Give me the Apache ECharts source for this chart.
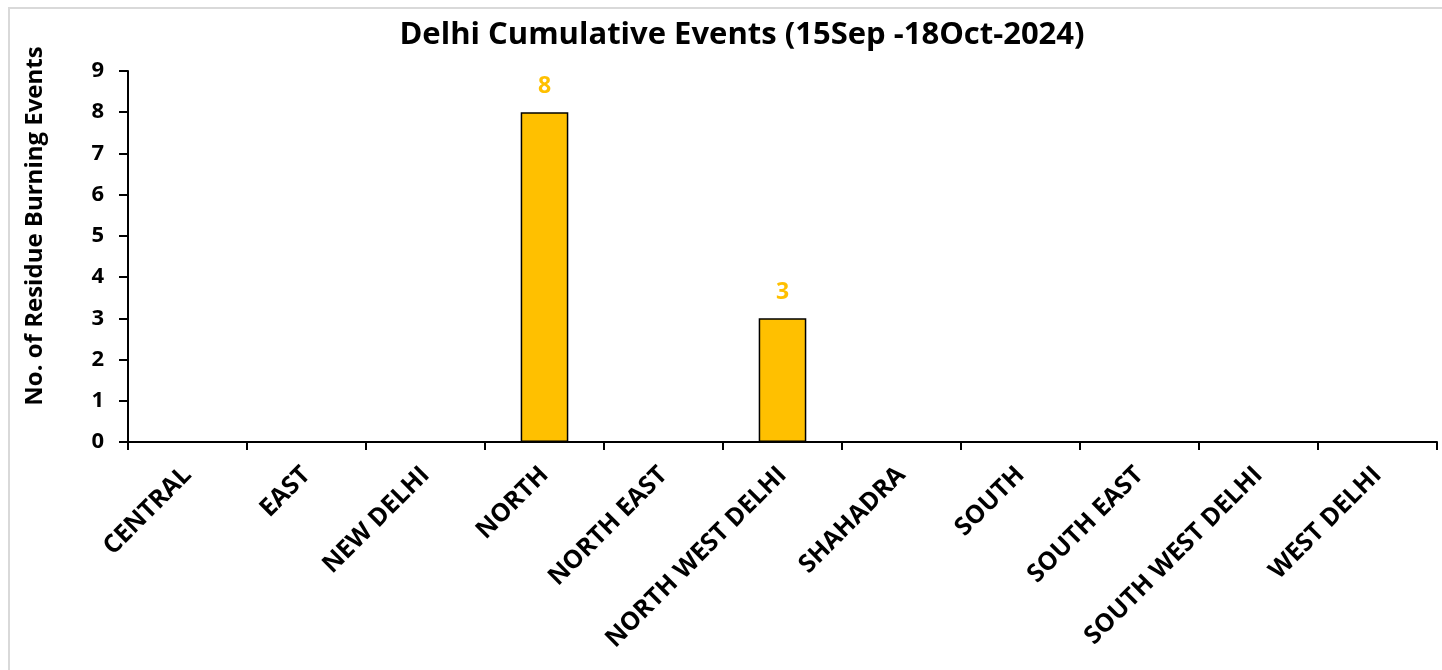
<!DOCTYPE html>
<html>
<head>
<meta charset="utf-8">
<script src="https://cdn.jsdelivr.net/npm/echarts@6/dist/echarts.min.js"></script>
<style>
  html, body { margin: 0; padding: 0; background: #fff; }
  #frame { position: absolute; left: 8px; top: 7px; width: 1450px; height: 680px; border-left: 2px solid #d9d9d9; border-top: 2px solid #d9d9d9; }
  #chart { position: absolute; left: 0; top: 0; width: 1442px; height: 670px; }
</style>
</head>
<body>
<div id="frame"></div>
<div id="chart"></div>
<script>
const districts = ['CENTRAL', 'EAST', 'NEW DELHI', 'NORTH', 'NORTH EAST', 'NORTH WEST DELHI',
  'SHAHADRA', 'SOUTH', 'SOUTH EAST', 'SOUTH WEST DELHI', 'WEST DELHI'];
const events = [0, 0, 0, 8, 0, 3, 0, 0, 0, 0, 0];

const font = '"Open Sans", "Noto Sans", sans-serif';
const chart = echarts.init(document.getElementById('chart'), null, { renderer: 'canvas' });

const option = {
  animation: false,
  title: {
    text: 'Delhi Cumulative Events (15Sep -18Oct-2024)',
    left: 737,
    textAlign: 'center',
    top: 15,
    textStyle: { fontFamily: font, fontWeight: 'bold', fontSize: 31, color: '#000' }
  },
  graphic: [{
    type: 'text',
    x: 23,
    y: 226,
    rotation: Math.PI / 2,
    style: {
      text: 'No. of Residue Burning Events',
      font: 'bold 24px ' + font,
      fill: '#000',
      align: 'center',
      verticalAlign: 'top'
    }
  }],
  grid: { left: 128, right: 5, top: 71, bottom: 228 },
  xAxis: {
    type: 'category',
    data: districts,
    axisLine: { lineStyle: { color: '#000', width: 2 } },
    axisTick: { show: true, alignWithLabel: false, length: 8, lineStyle: { color: '#000', width: 2 } },
    axisLabel: {
      interval: 0,
      rotate: 45,
      margin: 29,
      color: '#000',
      fontFamily: font,
      fontWeight: 'bold',
      fontSize: 25
    }
  },
  yAxis: {
    type: 'value',
    min: 0,
    max: 9,
    interval: 1,
    splitLine: { show: false },
    axisLine: { show: true, lineStyle: { color: '#000', width: 2 } },
    axisTick: { show: true, length: 9, lineStyle: { color: '#000', width: 2 } },
    axisLabel: { margin: 24, color: '#000', fontFamily: font, fontWeight: 'bold', fontSize: 22 }
  },
  series: [{
    type: 'bar',
    data: events,
    barWidth: '40%',
    itemStyle: { color: '#FFC000', borderColor: '#000', borderWidth: 1.5 },
    label: {
      show: true,
      position: 'top',
      distance: 14,
      formatter: p => (p.value > 0 ? p.value : ''),
      color: '#FFC000',
      fontFamily: font,
      fontWeight: 'bold',
      fontSize: 23
    }
  }]
};

chart.setOption(option);
window.addEventListener('resize', chart.resize);
</script>
</body>
</html>
